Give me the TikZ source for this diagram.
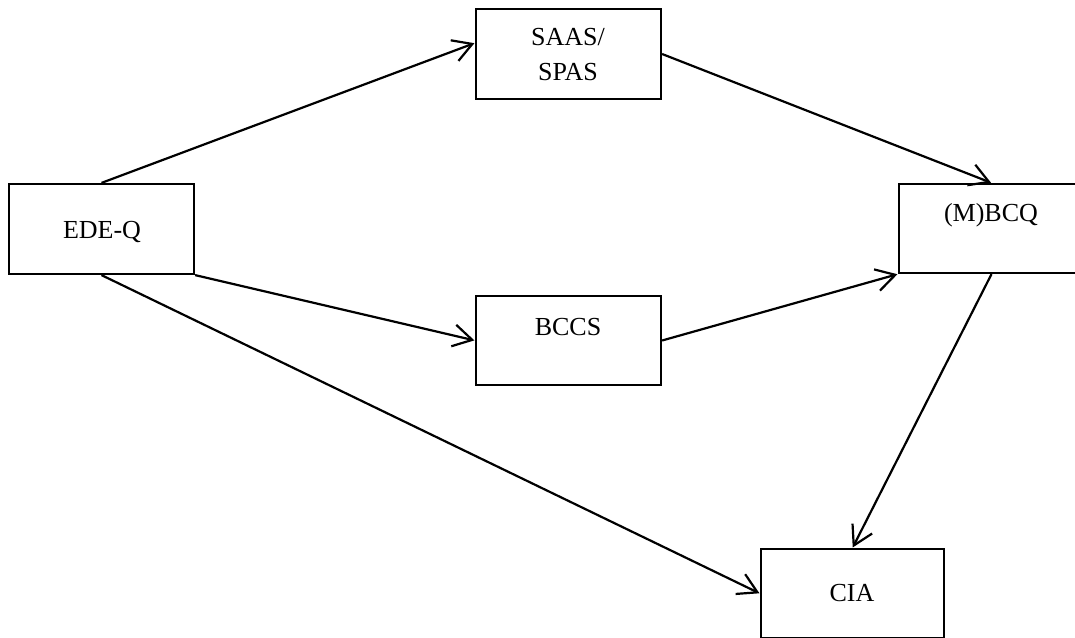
\documentclass[tikz,border=0pt]{standalone}
\usepackage{fontspec}
\setmainfont{Liberation Serif}
\usetikzlibrary{arrows.meta}
\begin{document}
\begin{tikzpicture}[x=1pt,y=-1pt,
  box/.style={draw,line width=2.2pt,minimum width=185pt,minimum height=90pt,inner sep=0pt},
  lbl/.style={font=\fontsize{26}{35}\selectfont,align=center,inner sep=0pt},
  arr/.style={line width=2.2pt,-{Straight Barb[length=19pt,width=22pt,line width=2.2pt]},shorten >=0.5pt}]
  \useasboundingbox (0,0) rectangle (1075,637);

  % boxes
  \node[box] (ede) at (101.5,229) {};
  \node[box] (saas) at (568.5,54) {};
  \node[box,minimum height=89pt] (mbcq) at (991.5,228.5) {};
  \node[box,minimum height=89pt] (bccs) at (568.5,340.5) {};
  \node[box,minimum width=183pt,minimum height=89pt] (cia) at (852.5,593.5) {};

  % box texts
  \node[lbl] (edet) at (102,232) {EDE-Q};
  \node[lbl] (saast) at (568,55) {SAAS/\\SPAS};
  \node[lbl] (mbcqt) at (991,215) {(M)BCQ};
  \node[lbl] (bccst) at (568,327) {BCCS};
  \node[lbl] (ciat) at (852,593) {CIA};

  % connectors
  \draw[arr] (ede.north) -- ([yshift=11pt]saas.west);
  \draw[arr] (saas.east) -- (mbcq.north);
  \draw[arr] (ede.south east) -- (bccs.west);
  \draw[arr] (bccs.east) -- (mbcq.south west);
  \draw[arr] (ede.south) -- (cia.west);
  \draw[arr] (mbcq.south) -- (cia.north);
\end{tikzpicture}
\end{document}
